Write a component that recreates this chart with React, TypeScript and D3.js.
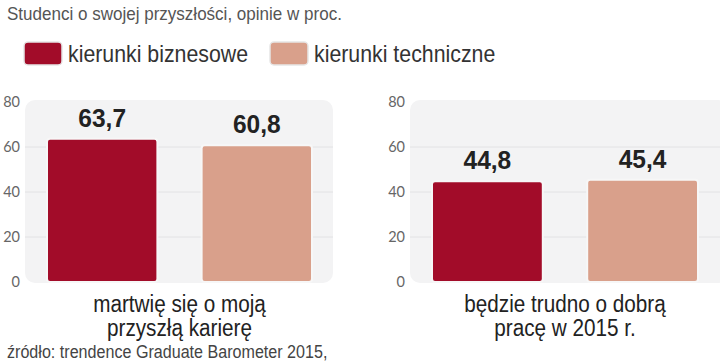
import * as d3 from "d3";
import {useEffect, useRef} from "react";

const title = "Studenci o swojej przyszłości, opinie w proc.";
const source = "źródło: trendence Graduate Barometer 2015,";
const series = ["kierunki biznesowe", "kierunki techniczne"];
const colors = ["#a20c29", "#d9a08b"];
const questions = [
    ["martwię się o moją", "przyszłą karierę"],
    ["będzie trudno o dobrą", "pracę w 2015 r."]
];
const business = [63.7, 60.8];
const technical = [44.8, 45.4];
const yTicks = [0, 20, 40, 60, 80];

const W = 720;
const H = 364;

// panel layout: background box and where the bars go
const panels = [
    {bg: [25, 333], bars: [47, 312], axisX: 20},
    {bg: [410, 728], bars: [432, 698], axisX: 405}
];

const sans = "'Liberation Sans', Arial, sans-serif";

// the original uses a condensed face; squeeze Liberation Sans to fit
const squeeze = (sel, k) => {
    sel.each(function () {
        const len = this.getComputedTextLength();
        d3.select(this)
            .attr("textLength", len * k)
            .attr("lengthAdjust", "spacingAndGlyphs");
    });
};

const App = () => {
    const ref = useRef(null);

    useEffect(() => {
        const svg = d3.select(ref.current);
        svg.selectAll("*").remove();

        // values per panel: first panel = first question for both series
        const values = [
            [business[0], business[1]],
            [technical[0], technical[1]]
        ];

        const y = d3.scaleLinear().domain([0, 80]).range([282, 102]);

        svg.append("text")
            .attr("x", 7).attr("y", 20)
            .attr("font-family", sans).attr("font-size", 18.5)
            .attr("fill", "#555")
            .text(title)
            .call(squeeze, 0.92);

        // legend
        const legendX = [24, 270];
        series.forEach((s, i) => {
            svg.append("rect")
                .attr("x", legendX[i]).attr("y", 42)
                .attr("width", 38).attr("height", 23)
                .attr("rx", 4)
                .attr("fill", colors[i])
                .attr("stroke", "#e6e6e6").attr("stroke-width", 1.5);
            svg.append("text")
                .attr("x", legendX[i] + 44).attr("y", 62)
                .attr("font-family", sans).attr("font-size", 24.5)
                .attr("fill", "#333")
                .text(s)
                .call(squeeze, 0.87);
        });

        panels.forEach((p, pi) => {
            const g = svg.append("g");
            g.append("rect")
                .attr("x", p.bg[0]).attr("y", 100)
                .attr("width", p.bg[1] - p.bg[0]).attr("height", 183)
                .attr("rx", 10)
                .attr("fill", "#f3f3f4");

            g.selectAll(".grid")
                .data(yTicks.filter(t => t > 0 && t < 80))
                .enter()
                .append("line")
                .attr("x1", p.bg[0]).attr("x2", p.bg[1])
                .attr("y1", d => y(d)).attr("y2", d => y(d))
                .attr("stroke", "#e2e2e4").attr("stroke-width", 1);

            g.selectAll(".tick")
                .data(yTicks)
                .enter()
                .append("text")
                .attr("x", p.axisX).attr("y", d => y(d) + 5)
                .attr("text-anchor", "end")
                .attr("font-family", "Lato, sans-serif").attr("font-size", 14.5)
                .attr("fill", "#666")
                .text(d => d);

            const x = d3.scaleBand()
                .domain(series)
                .range(p.bars)
                .paddingInner(0.286)
                .paddingOuter(0);

            g.selectAll(".bar")
                .data(values[pi])
                .enter()
                .append("rect")
                .attr("x", (d, i) => x(series[i]))
                .attr("y", d => y(d))
                .attr("width", x.bandwidth())
                .attr("height", d => y(0) - y(d))
                .attr("rx", 3)
                .attr("fill", (d, i) => colors[i])
                .attr("stroke", "#f7f7f7").attr("stroke-width", 2);

            g.selectAll(".val")
                .data(values[pi])
                .enter()
                .append("text")
                .attr("x", (d, i) => x(series[i]) + x.bandwidth() / 2)
                .attr("y", d => y(d) - 12)
                .attr("text-anchor", "middle")
                .attr("font-family", sans).attr("font-size", 25)
                .attr("font-weight", "bold")
                .attr("fill", "#222")
                .text(d => d.toFixed(1).replace(".", ","))
                .call(squeeze, 0.98);

            const cx = (p.bars[0] + p.bars[1]) / 2;
            questions[pi].forEach((line, li) => {
                g.append("text")
                    .attr("x", cx).attr("y", 312 + li * 24)
                    .attr("text-anchor", "middle")
                    .attr("font-family", sans).attr("font-size", 23)
                    .attr("fill", "#222")
                    .text(line)
                    .call(squeeze, 0.9);
            });
        });

        svg.append("text")
            .attr("x", 7).attr("y", 358)
            .attr("font-family", sans).attr("font-size", 17.5)
            .attr("fill", "#444")
            .text(source)
            .call(squeeze, 0.92);
    }, []);

    return (
        <svg ref={ref} width={W} height={H}
             style={{position: "absolute", left: 0, top: 0, background: "#fff"}}></svg>
    );
};

export default App;
